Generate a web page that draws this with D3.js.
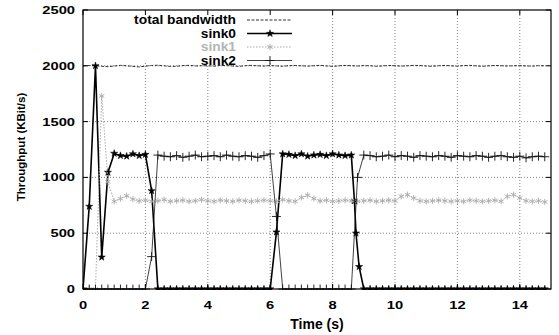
<!DOCTYPE html>
<html>
<head>
<meta charset="utf-8">
<script src="https://cdn.jsdelivr.net/npm/d3@7/dist/d3.min.js"></script>
<style>
  body { margin: 0; background: #fff; }
  svg { display: block; font-family: "Liberation Sans", Arial, sans-serif; }
</style>
</head>
<body>
<svg id="chart" width="559" height="335"></svg>
<script>
// sample times (s), 0.2 s apart
var gridTimes = [0,0.2,0.4,0.6,0.8, 1,1.2,1.4,1.6,1.8, 2,2.2,2.4,2.6,2.8, 3,3.2,3.4,3.6,3.8,
  4,4.2,4.4,4.6,4.8, 5,5.2,5.4,5.6,5.8, 6,6.2,6.4,6.6,6.8, 7,7.2,7.4,7.6,7.8,
  8,8.2,8.4,8.6,8.8, 9,9.2,9.4,9.6,9.8, 10,10.2,10.4,10.6,10.8, 11,11.2,11.4,11.6,11.8,
  12,12.2,12.4,12.6,12.8, 13,13.2,13.4,13.6,13.8, 14,14.2,14.4,14.6,14.8];

var totalBandwidth = [2000,2003,2001,1996,1992, 1998,2004,2000,1995,1990, 1997,2003,2005,2000,1994,
  1996,2002,2004,1999,2001, 2000,1997,2003,2002,1998, 1995,2001,2004,2000,1998,
  2002,1999,1996,2001,2003, 2000,1997,2001,2004,1999, 1995,2000,2003,2001,1998,
  2002,2000,1996,1999,2003, 2001,1997,2000,2004,2002, 1998,1996,2001,2003,2000,
  1997,2002,2004,1999,1996, 2000,2003,2001,1998,2000, 2002,1999,1997,2001,2000];

var sink1 = [0,0,0,1730,960, 785,810,835,805,790, 795,785,790,800,785,
  790,795,785,790,800, 790,785,795,790,785, 795,790,785,790,795,
  790,785,800,790,785, 820,840,810,790,795, 785,790,795,790,785,
  790,795,785,790,795, 790,830,845,815,790, 785,790,795,790,785,
  790,785,795,790,785, 790,795,785,830,845, 815,790,785,790,780];

var sink2 = [0,0,0,0,0, 0,0,0,0,0, 0,290,1200,1190,1185,
  1195,1180,1190,1200,1185, 1190,1195,1185,1200,1190, 1185,1195,1190,1180,1195,
  1210,650,0,0,0, 0,0,0,0,0, 0,0,0,0,1000,
  1200,1195,1185,1190,1200, 1185,1195,1190,1180,1195, 1190,1185,1195,1190,1180,
  1195,1190,1185,1195,1190, 1180,1190,1195,1185,1180, 1190,1175,1185,1190,1185];

// sink0 has a few extra samples while it drops out at ~8.7 s
var sink0Times = [0,0.2,0.4,0.6,0.8, 1,1.2,1.4,1.6,1.8, 2,2.2,2.4,2.6,2.8, 3,3.2,3.4,3.6,3.8,
  4,4.2,4.4,4.6,4.8, 5,5.2,5.4,5.6,5.8, 6,6.2,6.4,6.6,6.8, 7,7.2,7.4,7.6,7.8,
  8,8.2,8.4,8.6, 8.7,8.75,8.85, 9,9.2,9.4,9.6,9.8, 10,10.2,10.4,10.6,10.8, 11,11.2,11.4,11.6,11.8,
  12,12.2,12.4,12.6,12.8, 13,13.2,13.4,13.6,13.8, 14,14.2,14.4,14.6,14.8];

var sink0 = [0,740,2000,285,1045, 1215,1195,1190,1210,1195, 1205,880,0,0,0,
  0,0,0,0,0, 0,0,0,0,0, 0,0,0,0,0,
  0,510,1210,1205,1195, 1210,1190,1200,1205,1195,
  1210,1200,1195,1200, 790,500,200,
  0,0,0,0,0, 0,0,0,0,0, 0,0,0,0,0, 0,0,0,0,0, 0,0,0,0,0, 0,0,0,0,0];

var xTicks = [0, 2, 4, 6, 8, 10, 12, 14];
var yTicks = [0, 500, 1000, 1500, 2000, 2500];

(function() {
    var svg = d3.select("#chart");

    var pLeft = 83, pRight = 551, pTop = 10, pBottom = 289;

    var x = d3.scaleLinear().domain([0, 15]).range([pLeft, pRight]);
    var y = d3.scaleLinear().domain([0, 2500]).range([pBottom, pTop]);

    function pairs(ts, vs) {
        return ts.map(function(t, i) { return [t, vs[i]]; });
    }

    var series = [
        { name: "total bandwidth", data: pairs(gridTimes, totalBandwidth), color: "#333", width: 1,
          dash: "3,1.5", text: "#000", symbol: null },
        { name: "sink0", data: pairs(sink0Times, sink0), color: "#000", width: 1.6,
          dash: null, text: "#000", symbol: d3.symbolStar, symSize: 16, fill: true },
        { name: "sink1", data: pairs(gridTimes, sink1), color: "#aaa", width: 1,
          dash: "1.5,1.5", text: "#b4b4b4", symbol: d3.symbolAsterisk || d3.symbolTimes || d3.symbolCross, symSize: 26, fill: false },
        { name: "sink2", data: pairs(gridTimes, sink2), color: "#111", width: 0.8,
          dash: null, text: "#000", symbol: d3.symbolPlus || d3.symbolCross, symSize: 28, fill: false }
    ];

    // grid
    var grid = svg.append("g").attr("class", "grid")
        .attr("stroke", "#666").attr("stroke-width", 0.8).attr("stroke-dasharray", "1,2");

    grid.selectAll(".gx").data(xTicks.filter(function(d) { return d > 0; }))
        .enter().append("line")
        .attr("x1", function(d) { return x(d); }).attr("x2", function(d) { return x(d); })
        .attr("y1", pBottom).attr("y2", pTop);

    grid.selectAll(".gy").data(yTicks.filter(function(d) { return d > 0 && d < 2500; }))
        .enter().append("line")
        .attr("x1", pLeft).attr("x2", pRight)
        .attr("y1", function(d) { return y(d); }).attr("y2", function(d) { return y(d); });

    // key box hides the grid behind it
    svg.append("rect")
        .attr("x", 124).attr("y", pTop + 1)
        .attr("width", 178).attr("height", 52)
        .attr("fill", "#fff");

    svg.append("clipPath").attr("id", "plotclip")
        .append("rect").attr("x", pLeft).attr("y", pTop - 3)
        .attr("width", pRight - pLeft).attr("height", pBottom - pTop + 4);

    var line = d3.line()
        .x(function(d) { return x(d[0]); })
        .y(function(d) { return y(d[1]); });

    var plot = svg.append("g").attr("clip-path", "url(#plotclip)");

    series.forEach(function(s) {
        plot.append("path")
            .datum(s.data)
            .attr("fill", "none")
            .attr("stroke", s.color)
            .attr("stroke-width", s.width)
            .attr("stroke-dasharray", s.dash)
            .attr("d", line);

        if (s.symbol) {
            var sym = d3.symbol().type(s.symbol).size(s.symSize);
            plot.append("g").selectAll("path")
                .data(s.data)
                .enter().append("path")
                .attr("transform", function(d) { return "translate(" + x(d[0]) + "," + y(d[1]) + ")"; })
                .attr("d", sym)
                .attr("fill", s.fill ? s.color : "none")
                .attr("stroke", s.color)
                .attr("stroke-width", s.fill ? 0.5 : 0.9);
        }
    });

    // frame and mirrored inward ticks
    svg.append("rect")
        .attr("x", pLeft).attr("y", pTop)
        .attr("width", pRight - pLeft).attr("height", pBottom - pTop)
        .attr("fill", "none").attr("stroke", "#000").attr("stroke-width", 1.2);

    var ticks = svg.append("g").attr("stroke", "#000").attr("stroke-width", 1);

    xTicks.forEach(function(t) {
        ticks.append("line").attr("x1", x(t)).attr("x2", x(t)).attr("y1", pBottom).attr("y2", pBottom - 5);
        ticks.append("line").attr("x1", x(t)).attr("x2", x(t)).attr("y1", pTop).attr("y2", pTop + 5);
    });
    yTicks.forEach(function(t) {
        ticks.append("line").attr("x1", pLeft).attr("x2", pLeft + 5).attr("y1", y(t)).attr("y2", y(t));
        ticks.append("line").attr("x1", pRight).attr("x2", pRight - 5).attr("y1", y(t)).attr("y2", y(t));
    });

    // tick labels (the scan is stretched wide, so the digits are too)
    svg.append("g").selectAll("text")
        .data(yTicks)
        .enter().append("text")
        .attr("transform", function(d) { return "translate(75," + (y(d) + 4) + ") scale(1.4,1)"; })
        .attr("text-anchor", "end")
        .style("font-size", "10.5px").style("font-weight", "bold")
        .text(function(d) { return d; });

    svg.append("g").selectAll("text")
        .data(xTicks)
        .enter().append("text")
        .attr("transform", function(d) { return "translate(" + x(d) + ",309) scale(1.4,1)"; })
        .attr("text-anchor", "middle")
        .style("font-size", "10.5px").style("font-weight", "bold")
        .text(function(d) { return d; });

    svg.append("text")
        .attr("x", (pLeft + pRight) / 2).attr("y", 329)
        .attr("text-anchor", "middle")
        .style("font-size", "14px").style("font-weight", "bold")
        .text("Time (s)");

    svg.append("text")
        .attr("transform", "translate(25,147) rotate(-90)")
        .attr("text-anchor", "middle")
        .style("font-size", "11.5px").style("font-weight", "bold")
        .text("Throughput (KBit/s)");

    // key
    var key = svg.append("g").selectAll("g")
        .data(series)
        .enter().append("g")
        .attr("transform", function(d, i) { return "translate(0," + (20 + i * 13.5) + ")"; });

    key.append("text")
        .attr("transform", "translate(236,4) scale(1.15,1)")
        .attr("text-anchor", "end")
        .style("font-size", "12px").style("font-weight", "bold")
        .attr("fill", function(d) { return d.text; })
        .text(function(d) { return d.name; });

    key.append("line")
        .attr("x1", 247).attr("x2", 292).attr("y1", 0).attr("y2", 0)
        .attr("stroke", function(d) { return d.color; })
        .attr("stroke-width", function(d) { return d.width; })
        .attr("stroke-dasharray", function(d) { return d.dash; });

    key.filter(function(d) { return d.symbol; })
        .append("path")
        .attr("transform", "translate(270,0)")
        .attr("d", function(d) { return d3.symbol().type(d.symbol).size(d.symSize)(); })
        .attr("fill", function(d) { return d.fill ? d.color : "none"; })
        .attr("stroke", function(d) { return d.color; })
        .attr("stroke-width", function(d) { return d.fill ? 0.5 : 0.9; });
})();
</script>
</body>
</html>
